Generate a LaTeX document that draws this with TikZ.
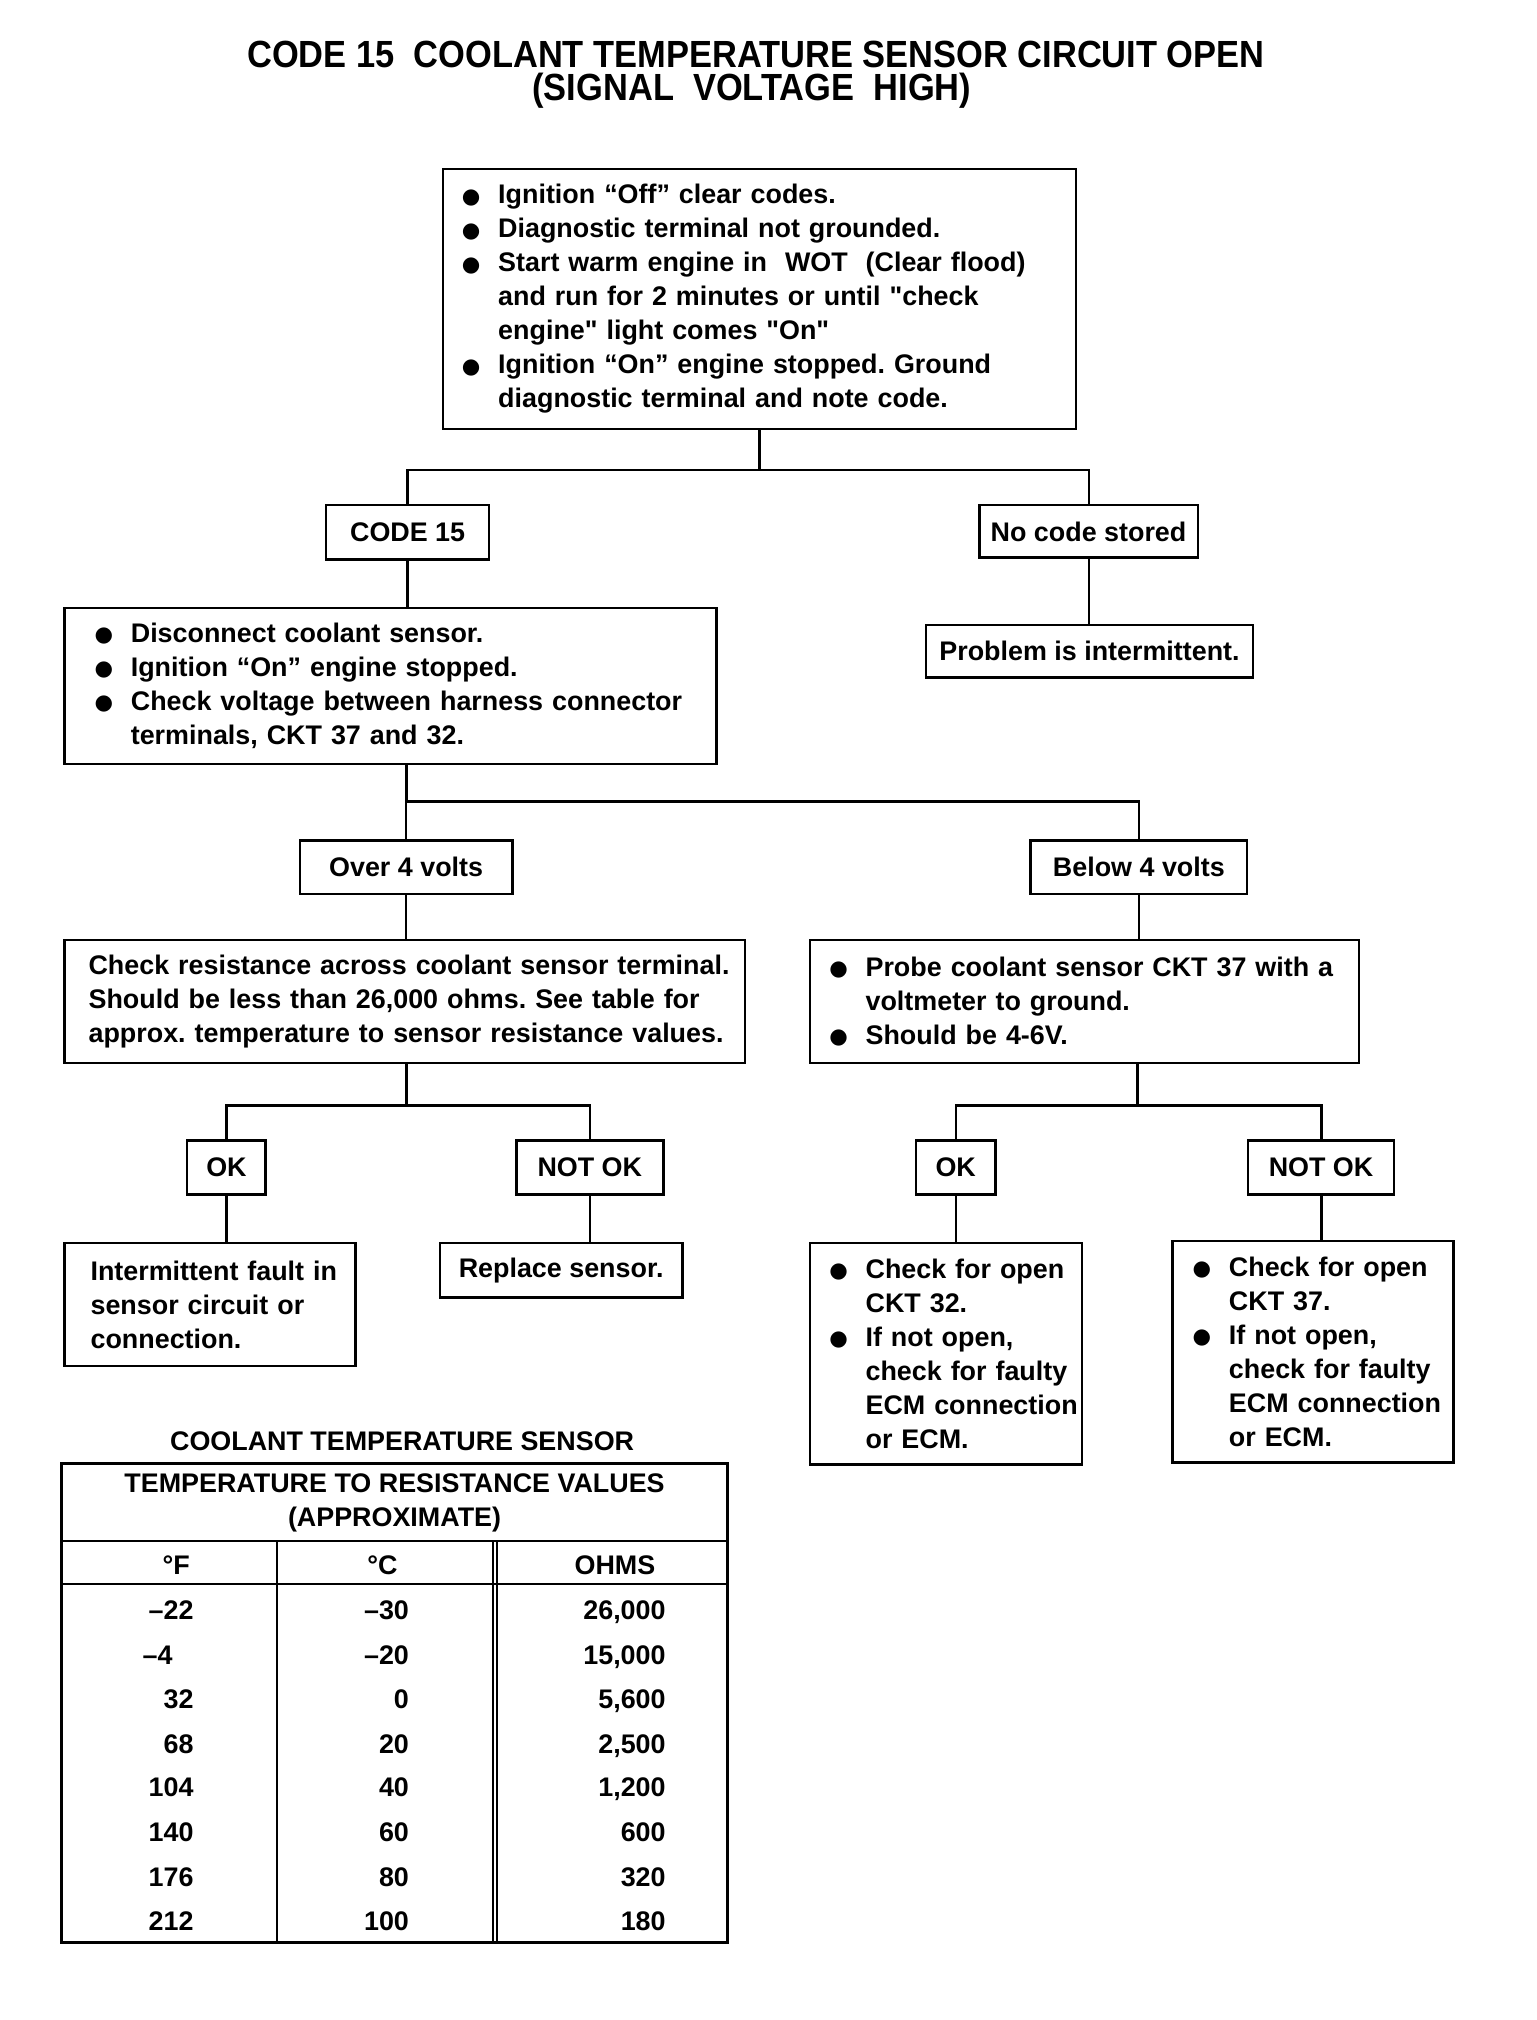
\documentclass[tikz,border=0pt]{standalone}
\usepackage{fontspec}
\setmainfont{Liberation Sans}
\newfontfamily\dejavu{DejaVu Sans}
\newcommand\bodyfont{\fontsize{7.6}{9.6}\selectfont\bfseries\frenchspacing}
\newcommand\titlefont{\fontsize{10.7}{12}\selectfont\bfseries}
\newcommand\bul{\makebox[3.6mm][l]{\raisebox{0.2pt}{\dejavu\fontsize{6}{6}\selectfont ●}}}
\newcommand\ind{\hspace*{3.6mm}}
\newcommand\lin[1]{\mbox{#1}}
\tikzset{
  bx/.style={draw, line width=0.7pt, inner sep=0pt, font=\bodyfont, align=center},
  txt/.style={bx, align=left, inner ysep=0pt},
  conn/.style={line width=0.7pt},
  cell/.style={font=\bodyfont, inner sep=0pt}
}
\begin{document}
\begin{tikzpicture}[x=0.1mm,y=-0.1mm]
\useasboundingbox (0,0) rectangle (1536,2020);
\begin{scope}[scale=1.0065, transform shape]
% title
\node[font=\titlefont] (t1) at (751,54) {\scalebox{0.91}[1]{CODE 15\ \ COOLANT TEMPERATURE SENSOR CIRCUIT OPEN}};
\node[font=\titlefont] (t2) at (747,90) {\scalebox{0.91}[1]{(SIGNAL\ \ VOLTAGE\ \ HIGH)}};
% boxes
\node[txt, text width=59.1mm, inner xsep=1.9mm, minimum height=25.8mm] (top) at (754.5,297) {%
\lin{\bul Ignition “Off” clear codes.}\\
\lin{\bul Diagnostic terminal not grounded.}\\
\lin{\bul Start warm engine in\ \ WOT\ \ (Clear flood)}\\
\lin{\ind and run for 2 minutes or until \textquotedbl check}\\
\lin{\ind engine\textquotedbl\ light comes \textquotedbl On\textquotedbl}\\
\lin{\bul Ignition “On” engine stopped. Ground}\\
\lin{\ind diagnostic terminal and note code.}};
\node[bx, minimum width=16.2mm, minimum height=5.4mm] (code15) at (405,529) {CODE 15};
\node[bx, minimum width=21.7mm, minimum height=5.2mm] (nocode) at (1081.5,528) {No code stored};
\node[bx, minimum width=32.5mm, minimum height=5.2mm] (problem) at (1082.5,647) {Problem is intermittent.};
\node[txt, text width=58.8mm, inner xsep=3mm, minimum height=15.5mm] (disconnect) at (388,681.5) {%
\lin{\bul Disconnect coolant sensor.}\\
\lin{\bul Ignition “On” engine stopped.}\\
\lin{\bul Check voltage between harness connector}\\
\lin{\ind terminals, CKT 37 and 32.}};
\node[bx, minimum width=21.1mm, minimum height=5.3mm] (over4) at (403.5,861.5) {Over 4 volts};
\node[bx, minimum width=21.5mm, minimum height=5.3mm] (below4) at (1131.5,861.5) {Below 4 volts};
\node[txt, text width=62.8mm, inner xsep=2.4mm, minimum height=12.2mm] (checkres) at (402,995) {%
\lin{Check resistance across coolant sensor terminal.}\\
\lin{Should be less than 26,000 ohms. See table for}\\
\lin{approx. temperature to sensor resistance values.}};
\node[txt, text width=50.7mm, inner xsep=1.9mm, minimum height=12.2mm] (probe) at (1077.5,995) {%
\lin{\bul Probe coolant sensor CKT 37 with a}\\
\lin{\ind voltmeter to ground.}\\
\lin{\bul Should be 4-6V.}};
\node[bx, minimum width=7.8mm, minimum height=5.4mm] (ok1) at (225,1160) {OK};
\node[bx, minimum width=14.6mm, minimum height=5.4mm] (notok1) at (586,1160) {NOT OK};
\node[txt, text width=23.7mm, inner xsep=2.6mm, minimum height=12.2mm] (intermittent) at (208.5,1296) {%
\lin{Intermittent fault in}\\
\lin{sensor circuit or}\\
\lin{connection.}};
\node[bx, minimum width=24.1mm, minimum height=5.4mm] (replace) at (557.5,1262) {Replace sensor.};
\node[bx, minimum width=7.9mm, minimum height=5.4mm] (ok2) at (949.5,1160) {OK};
\node[bx, minimum width=14.5mm, minimum height=5.4mm] (notok2) at (1312.5,1160) {NOT OK};
\node[txt, text width=23.2mm, inner xsep=1.9mm, minimum height=22mm] (ckt32) at (940,1345) {%
\lin{\bul Check for open}\\
\lin{\ind CKT 32.}\\
\lin{\bul If not open,}\\
\lin{\ind check for faulty}\\
\lin{\ind ECM connection}\\
\lin{\ind or ECM.}};
\node[txt, text width=23.9mm, inner xsep=2mm, minimum height=22mm] (ckt37) at (1304.5,1343) {%
\lin{\bul Check for open}\\
\lin{\ind CKT 37.}\\
\lin{\bul If not open,}\\
\lin{\ind check for faulty}\\
\lin{\ind ECM connection}\\
\lin{\ind or ECM.}};
% connectors
\coordinate (j1) at (753,467);
\coordinate (j2) at (404,796);
\coordinate (j3) at (404,1098);
\coordinate (j4) at (1130,1098);
\draw[conn] (top.south) -- (top.south |- j1);
\draw[conn] (code15.north) |- (j1) -| (nocode.north);
\draw[conn] (nocode.south) -- (nocode.south |- problem.north);
\draw[conn] (code15.south) -- (code15.south |- disconnect.north);
\draw[conn] (disconnect.south -| j2) -- (j2);
\draw[conn] (over4.north) |- (j2) -| (below4.north);
\draw[conn] (over4.south) -- (over4.south |- checkres.north);
\draw[conn] (below4.south) -- (below4.south |- probe.north);
\draw[conn] (checkres.south -| j3) -- (j3);
\draw[conn] (ok1.north) |- (j3) -| (notok1.north);
\draw[conn] (ok1.south) -- (ok1.south |- intermittent.north);
\draw[conn] (notok1.south) -- (notok1.south |- replace.north);
\draw[conn] (probe.south -| j4) -- (j4);
\draw[conn] (ok2.north) |- (j4) -| (notok2.north);
\draw[conn] (ok2.south) -- (ok2.south |- ckt32.north);
\draw[conn] (notok2.south) -- (notok2.south |- ckt37.north);
% table
\node[cell] (cap) at (399.5,1432) {COOLANT TEMPERATURE SENSOR};
\node[draw, line width=1pt, minimum width=66.2mm, minimum height=47.6mm, inner sep=0pt] (tbl) at (392,1692) {};
\node[cell, align=center] (thead) at (392,1493.5) {TEMPERATURE TO RESISTANCE VALUES\\(APPROXIMATE)};
\draw[line width=0.7pt] (61,1531) -- (723,1531);
\draw[line width=0.7pt] (61,1574) -- (723,1574);
\draw[line width=0.7pt] (275,1531) -- (275,1930);
\draw[line width=0.7pt] (490,1531) -- (490,1930);
\draw[line width=0.7pt] (494,1531) -- (494,1930);
\node[cell] (hF) at (175,1555) {°F};
\node[cell] (hC) at (380,1555) {°C};
\node[cell] (hO) at (611,1555) {OHMS};
\foreach \f/\c/\o/\y [count=\i] in {–22/–30/26{,}000/1609, 32/0/5{,}600/1697, 68/20/2{,}500/1742, 104/40/1{,}200/1785, 140/60/600/1830, 176/80/320/1874, 212/100/180/1918}{
  \node[cell, anchor=base east] (f\i) at (193,\y) {\f};
  \node[cell, anchor=base east] (c\i) at (407,\y) {\c};
  \node[cell, anchor=base east] (o\i) at (662,\y) {\o};
}
\node[cell, anchor=base west] (fm4) at (141,1654) {–4};
\node[cell, anchor=base east] (cm20) at (407,1654) {–20};
\node[cell, anchor=base east] (o15) at (662,1654) {15,000};
\end{scope}
\end{tikzpicture}
\end{document}
